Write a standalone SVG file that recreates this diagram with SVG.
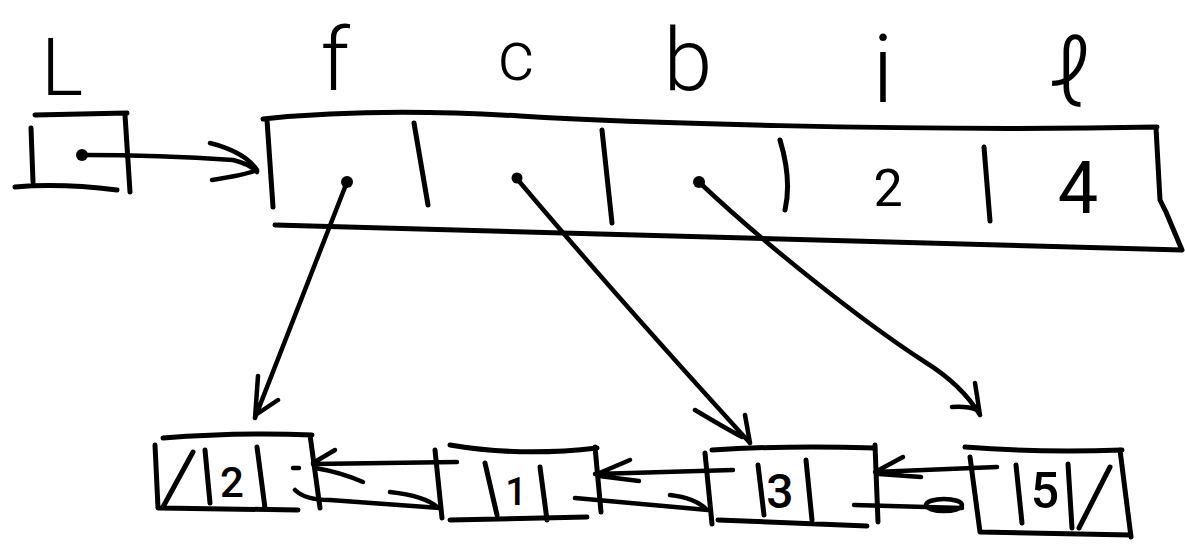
<svg xmlns="http://www.w3.org/2000/svg" width="1185" height="550" viewBox="0 0 1185 550">
<style>
.s{fill:none;stroke:#000;stroke-width:5;stroke-linecap:round;stroke-linejoin:round}
.a{fill:none;stroke:#000;stroke-width:4.5;stroke-linecap:round;stroke-linejoin:round}
.d{fill:#000}
.t{font-family:Roboto,"DejaVu Sans",sans-serif;font-weight:300;fill:#000;text-anchor:middle}
.v{font-family:Roboto,"DejaVu Sans",sans-serif;font-weight:400;fill:#000;text-anchor:middle}
.n{font-family:Roboto,"DejaVu Sans",sans-serif;font-weight:500;fill:#000;text-anchor:middle}
</style>
<rect width="1185" height="550" fill="#fff"/>
<g id="L">
<text class="t" x="62" y="95" font-size="80">L</text>
<path class="s" d="M35,115 L127,113 M31,128 L33,182 M15,187 Q60,183 117,190 M125,115 L130,192"/>
</g>
<g id="array">
<text class="t" x="335" y="90" font-size="88">f</text>
<text class="t" x="516" y="80" font-size="70">c</text>
<text class="t" x="688" y="90" font-size="88">b</text>
<text class="t" x="883" y="102" font-size="95">i</text>
<text class="t" x="1070" y="106" font-size="95">ℓ</text>
<path class="s" d="M263,119 C330,112 420,110 520,116 S900,132 1157,127 M267,120 L273,207 M275,225 L1182,250 M1156,128 L1160,200 L1166,212 L1182,250"/>
<path class="s" d="M414,123 L428,205 M602,130 L612,223 M780,140 Q792,180 785,210 M984,147 L990,221"/>
<text class="v" x="888" y="206" font-size="52">2</text>
<text class="v" x="1078" y="213" font-size="72">4</text>
</g>
<g id="node2">
<path class="s" d="M163,438 Q240,432 312,435 M155,445 L158,508 M160,508 L298,510 M310,435 L320,508 M163,507 L193,452 M205,450 L210,503 M257,447 L265,508"/>
<text class="n" x="232" y="497" font-size="42">2</text>
</g>
<g id="node1">
<path class="s" d="M435,450 L442,518 M450,445 Q520,457 597,448 M450,520 L587,517 M485,463 L497,515 M540,467 L547,520 M595,447 L601,512"/>
<text class="n" x="516" y="505" font-size="38">1</text>
</g>
<g id="node3">
<path class="s" d="M705,453 L712,524 M712,450 Q790,445 875,448 M875,445 L878,522 M718,520 L867,526 M758,465 L764,515 M806,460 L812,520"/>
<text class="n" x="780" y="508" font-size="48">3</text>
</g>
<g id="node5">
<path class="s" d="M970,457 L980,532 M965,447 Q1040,453 1122,450 M1120,450 L1131,537 M980,532 L1131,535 M1016,465 L1022,523 M1068,464 L1072,528 M1079,528 L1110,467"/>
<text class="n" x="1045" y="508" font-size="50">5</text>
</g>
<g id="connectors">
<circle class="d" cx="82" cy="155" r="6"/>
<path class="a" d="M82,155 Q160,155 233,160 Q250,164 257,172 M210,143 Q245,152 257,170 Q245,175 212,180"/>
<circle class="d" cx="347" cy="182" r="6"/>
<path class="a" d="M347,182 L255,418 M258,376 L255,418 M278,400 L257,414"/>
<circle class="d" cx="517" cy="178" r="5.5"/>
<path class="a" d="M518,180 Q615,295 750,443 M695,410 Q725,428 742,437 M745,415 L750,443"/>
<circle class="d" cx="699" cy="182" r="6"/>
<path class="a" d="M699,182 C760,240 860,320 925,362 Q962,385 980,415 M975,383 L980,415 M952,407 Q968,406 977,410"/>
<path class="a" d="M457,462 L313,464 M335,450 L313,463 M363,482 Q340,472 315,468 M293,468 L299,468"/>
<path class="a" d="M295,490 Q305,500 330,500 L440,508 M390,492 Q425,496 437,507"/>
<path class="a" d="M733,470 Q660,472 595,474 M630,460 L597,474 M639,481 L599,476"/>
<path class="a" d="M575,498 L708,510 M670,495 Q695,498 706,509"/>
<path class="a" d="M997,467 L875,472 M903,457 L877,471 M921,477 L879,474"/>
<path class="a" d="M854,505 L962,508"/>
<ellipse class="a" cx="944" cy="505" rx="18" ry="6"/>
</g>
</svg>
